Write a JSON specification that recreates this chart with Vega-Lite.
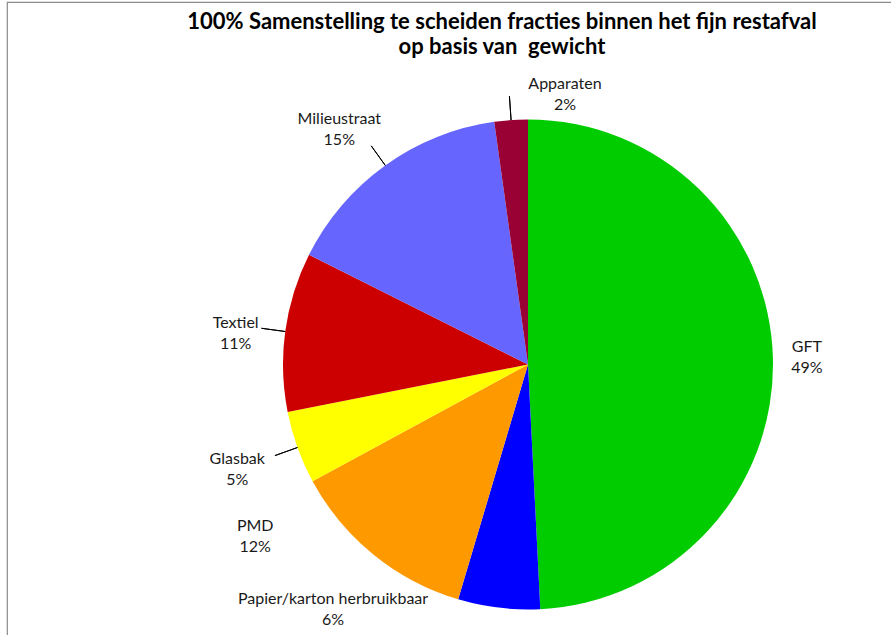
{
  "$schema": "https://vega.github.io/schema/vega-lite/v6.json",
  "autosize": "none",
  "width": 1042,
  "height": 725,
  "padding": {"left": 7, "top": 2, "right": 0, "bottom": 0},
  "background": "white",
  "view": {"stroke": "#8a8a8a", "strokeWidth": 1.2},
  "title": {
    "text": ["100% Samenstelling te scheiden fracties binnen het fijn restafval", "op basis van \u00a0gewicht"],
    "font": "Lato",
    "fontSize": 22,
    "fontWeight": "bold",
    "color": "#000000",
    "anchor": "middle",
    "baseline": "top",
    "lineHeight": 25,
    "offset": -57,
    "dx": -26
  },
  "data": {
    "values": [
      {"categorie": "GFT", "aandeel": 49.2, "volgorde": 1, "label": "GFT\n49%"},
      {"categorie": "Papier/karton herbruikbaar", "aandeel": 5.4, "volgorde": 2, "label": "Papier/karton herbruikbaar\n6%"},
      {"categorie": "PMD", "aandeel": 12.5, "volgorde": 3, "label": "PMD\n12%"},
      {"categorie": "Glasbak", "aandeel": 4.8, "volgorde": 4, "label": "Glasbak\n5%"},
      {"categorie": "Textiel", "aandeel": 10.5, "volgorde": 5, "label": "Textiel\n11%"},
      {"categorie": "Milieustraat", "aandeel": 15.4, "volgorde": 6, "label": "Milieustraat\n15%"},
      {"categorie": "Apparaten", "aandeel": 2.2, "volgorde": 7, "label": "Apparaten\n2%"}
    ]
  },
  "encoding": {
    "theta": {"field": "aandeel", "type": "quantitative", "stack": true},
    "order": {"field": "volgorde", "type": "quantitative"}
  },
  "layer": [
    {
      "mark": {"type": "arc", "radius": 245},
      "encoding": {
        "color": {
          "field": "categorie",
          "type": "nominal",
          "legend": null,
          "scale": {
            "domain": ["GFT", "Papier/karton herbruikbaar", "PMD", "Glasbak", "Textiel", "Milieustraat", "Apparaten"],
            "range": ["#00CC00", "#0000FF", "#FF9900", "#FFFF00", "#CC0000", "#6666FF", "#990033"]
          }
        }
      }
    },
    {
      "mark": {"type": "arc", "radius": 269, "radius2": 245, "padAngle": 3.1416, "fillOpacity": 0, "stroke": "#000000", "strokeWidth": 1},
      "encoding": {"strokeOpacity": {"condition": {"test": "indexof(['Textiel','Glasbak','Milieustraat','Apparaten'], datum.categorie) >= 0", "value": 1}, "value": 0}}
    },
    {
      "mark": {"type": "text", "radius": 279, "dy": -10, "font": "Lato", "fontSize": 16, "lineHeight": 21, "lineBreak": "\n", "color": "#1a1a1a", "align": "center", "baseline": "middle"},
      "encoding": {"text": {"condition": {"test": "datum.categorie == 'GFT'", "field": "label"}, "value": ""}}
    },
    {
      "mark": {"type": "text", "radius": 313, "thetaOffset": 0.553, "dy": -10, "font": "Lato", "fontSize": 16, "lineHeight": 21, "lineBreak": "\n", "color": "#1a1a1a", "align": "center", "baseline": "middle"},
      "encoding": {"text": {"condition": {"test": "datum.categorie == 'Papier/karton herbruikbaar'", "field": "label"}, "value": ""}}
    },
    {
      "mark": {"type": "text", "radius": 322, "thetaOffset": 0.329, "dy": -10, "font": "Lato", "fontSize": 16, "lineHeight": 21, "lineBreak": "\n", "color": "#1a1a1a", "align": "center", "baseline": "middle"},
      "encoding": {"text": {"condition": {"test": "datum.categorie == 'PMD'", "field": "label"}, "value": ""}}
    },
    {
      "mark": {"type": "text", "radius": 309, "dy": -10, "font": "Lato", "fontSize": 16, "lineHeight": 21, "lineBreak": "\n", "color": "#1a1a1a", "align": "center", "baseline": "middle"},
      "encoding": {"text": {"condition": {"test": "datum.categorie == 'Glasbak'", "field": "label"}, "value": ""}}
    },
    {
      "mark": {"type": "text", "radius": 294, "thetaOffset": -0.029, "dy": -10, "font": "Lato", "fontSize": 16, "lineHeight": 21, "lineBreak": "\n", "color": "#1a1a1a", "align": "center", "baseline": "middle"},
      "encoding": {"text": {"condition": {"test": "datum.categorie == 'Textiel'", "field": "label"}, "value": ""}}
    },
    {
      "mark": {"type": "text", "radius": 302, "thetaOffset": -0.053, "dy": -10, "font": "Lato", "fontSize": 16, "lineHeight": 21, "lineBreak": "\n", "color": "#1a1a1a", "align": "center", "baseline": "middle"},
      "encoding": {"text": {"condition": {"test": "datum.categorie == 'Milieustraat'", "field": "label"}, "value": ""}}
    },
    {
      "mark": {"type": "text", "radius": 273, "thetaOffset": 0.205, "dy": -10, "font": "Lato", "fontSize": 16, "lineHeight": 21, "lineBreak": "\n", "color": "#1a1a1a", "align": "center", "baseline": "middle"},
      "encoding": {"text": {"condition": {"test": "datum.categorie == 'Apparaten'", "field": "label"}, "value": ""}}
    }
  ]
}
